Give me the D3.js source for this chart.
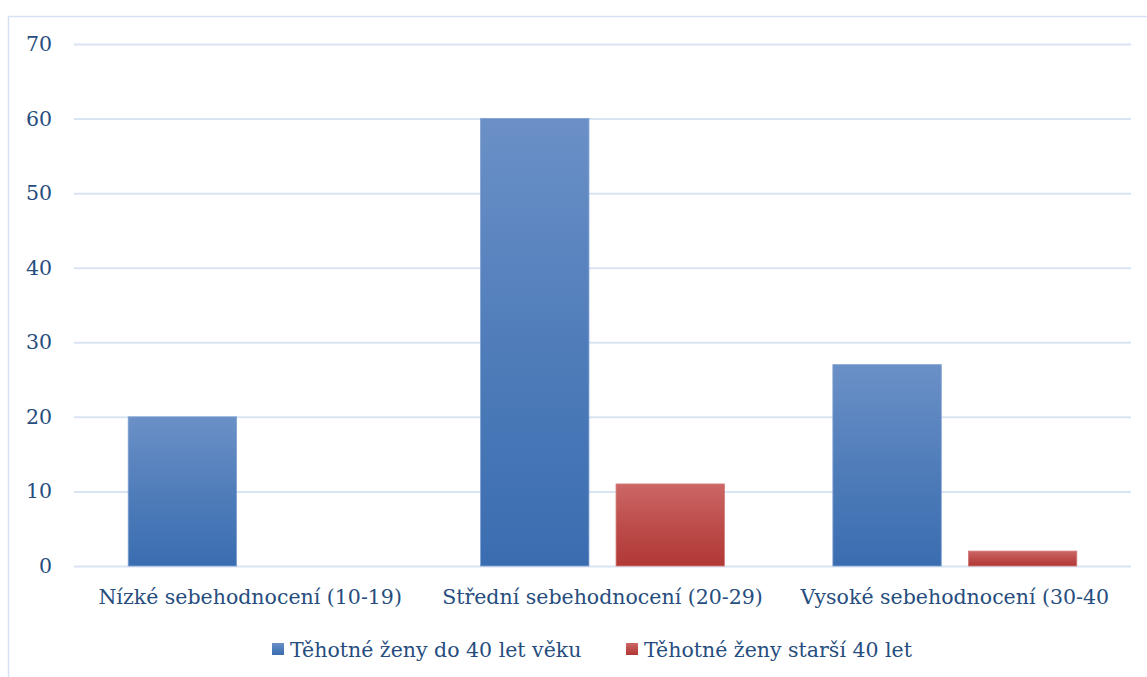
<!DOCTYPE html>
<html>
<head>
<meta charset="utf-8">
<script src="https://cdn.jsdelivr.net/npm/d3@7"></script>
<style>
  body { margin: 0; background: #fff; }
  text { font-family: "DejaVu Serif", "Liberation Serif", serif; fill: #264d7e; }
</style>
</head>
<body>
<svg id="chart"></svg>
<script>
// categories and series
const categories = ["Nízké sebehodnocení (10-19)", "Střední sebehodnocení (20-29)", "Vysoké sebehodnocení (30-40"];
const seriesNames = ["Těhotné ženy do 40 let věku", "Těhotné ženy starší 40 let"];
const under40 = [20, 60, 27];
const over40 = [0, 11, 2];
const yTicks = [0, 10, 20, 30, 40, 50, 60, 70];

const width = 1147, height = 677;
const margin = { top: 44, right: 16, bottom: 111, left: 74 };
const innerW = width - margin.left - margin.right;
const innerH = height - margin.top - margin.bottom;
const fontSize = 20.5;

const svg = d3.select("#chart").attr("width", width).attr("height", height);

// gradients for bars
const defs = svg.append("defs");
const grads = [
  { id: "gBlue", top: "#6b90c7", bottom: "#3a6db0" },
  { id: "gRed", top: "#cb6766", bottom: "#b13835" }
];
grads.forEach(g => {
  const lg = defs.append("linearGradient").attr("id", g.id)
    .attr("x1", 0).attr("y1", 0).attr("x2", 0).attr("y2", 1);
  lg.append("stop").attr("offset", "0%").attr("stop-color", g.top);
  lg.append("stop").attr("offset", "50%").attr("stop-color", d3.interpolateRgb(g.top, g.bottom)(0.55));
  lg.append("stop").attr("offset", "100%").attr("stop-color", g.bottom);
});

// outer frame
svg.append("rect")
  .attr("x", 8.5).attr("y", 16.5)
  .attr("width", width + 10).attr("height", height)
  .attr("fill", "none").attr("stroke", "#d6e2f3").attr("stroke-width", 1.5);

const chart = svg.append("g").attr("transform", `translate(${margin.left},${margin.top})`);

const x0 = d3.scaleBand().domain(categories).range([0, innerW]);
const x1 = d3.scaleBand().domain(seriesNames).range([0, x0.bandwidth()]).paddingInner(0.2).paddingOuter(0.4);
const y = d3.scaleLinear().domain([0, 70]).range([innerH, 0]);

// gridlines
const yAxis = d3.axisLeft(y).tickValues(yTicks).tickSize(-innerW).tickPadding(22);
const yAxisG = chart.append("g").attr("class", "y-axis").call(yAxis);
yAxisG.select(".domain").remove();
yAxisG.selectAll(".tick line").attr("stroke", "#d9e4f3").attr("stroke-width", 2);
yAxisG.selectAll(".tick text").attr("font-size", fontSize).style("fill", "#264d7e")
  .style("font-family", "'DejaVu Serif', serif");

// bars
const colors = ["url(#gBlue)", "url(#gRed)"];
const edges = ["#7fa0d0", "#d07a79"];
const series = [under40, over40];
series.forEach((vals, si) => {
  chart.append("g").selectAll("rect")
    .data(vals)
    .join("rect")
    .attr("x", (d, i) => x0(categories[i]) + x1(seriesNames[si]))
    .attr("width", x1.bandwidth())
    .attr("y", d => y(d))
    .attr("height", d => innerH - y(d))
    .attr("fill", colors[si])
    .attr("stroke", d => d > 0 ? edges[si] : "none")
    .attr("stroke-width", 0.8);
});

// x labels
const xAxis = d3.axisBottom(x0).tickSize(0).tickPadding(23);
const xAxisG = chart.append("g").attr("transform", `translate(0,${innerH})`).call(xAxis);
xAxisG.select(".domain").remove();
xAxisG.selectAll(".tick text").attr("font-size", fontSize).style("fill", "#264d7e")
  .style("font-family", "'DejaVu Serif', serif");

// legend
const legend = svg.append("g");
const legendX = [272, 626];
seriesNames.forEach((name, i) => {
  legend.append("rect")
    .attr("x", legendX[i]).attr("y", 643)
    .attr("width", 12).attr("height", 12)
    .attr("fill", colors[i]);
  legend.append("text")
    .attr("x", legendX[i] + 18).attr("y", 657)
    .attr("font-size", fontSize)
    .text(name);
});
</script>
</body>
</html>
